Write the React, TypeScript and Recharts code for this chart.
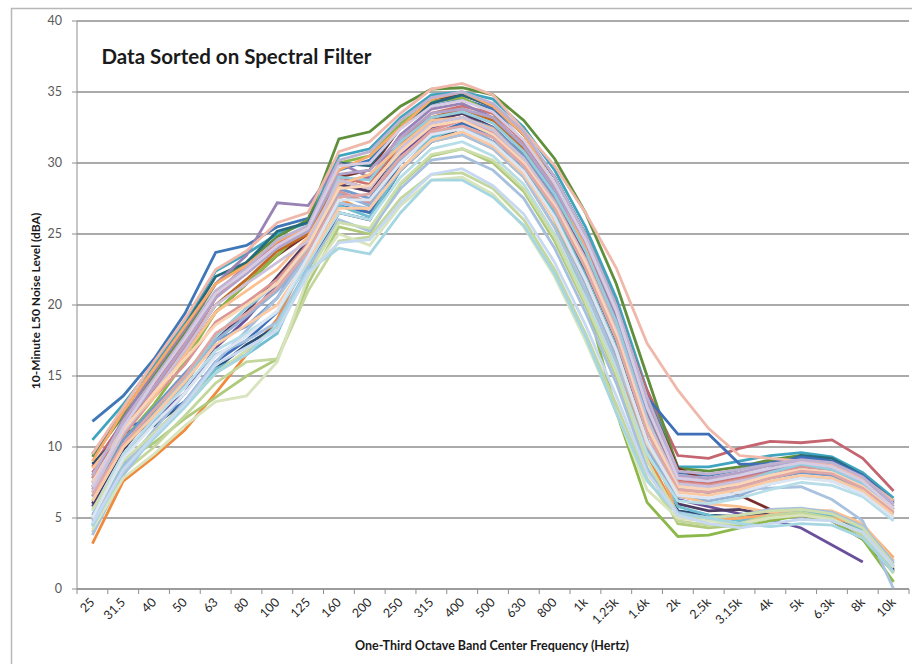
import { LineChart, Line, XAxis, YAxis, CartesianGrid } from 'recharts'

const FREQS = ['25', '31.5', '40', '50', '63', '80', '100', '125', '160', '200', '250', '315', '400', '500', '630', '800', '1k', '1.25k', '1.6k', '2k', '2.5k', '3.15k', '4k', '5k', '6.3k', '8k', '10k']
const Y_TICKS = [0, 5, 10, 15, 20, 25, 30, 35, 40]

// one row per measurement, values in dBA per frequency band
const s01 = [11.8, 13.6, 16.2, 19.4, 23.7, 24.2, 25.5, 26.1, 29.5, 30.2, 32.5, 34, 34.5, 33.8, 31.5, 28.5, 24.5, 19.5, 13, 8.2, 8, 8.4, 9, 9.2, 8.8, 7.8, 6.1]
const s02 = [10.5, 13, 15.8, 18.8, 22.4, 23.6, 25, 25.8, 30.5, 31, 33.2, 34.8, 35, 34.5, 32.5, 29.5, 25.5, 20.5, 14, 8.6, 8.6, 9, 9.4, 9.6, 9.3, 8.2, 6.4]
const s03 = [8.6, 11.8, 14.5, 17.5, 20.8, 22.8, 24.2, 25.2, 28.5, 29, 31.5, 33, 33.5, 32.5, 30.5, 27.5, 24, 19.5, 14, 9.4, 9.2, 9.9, 10.4, 10.3, 10.5, 9.2, 6.9]
const s04 = [9.3, 12.2, 15, 18, 21.5, 23, 24.8, 26, 31.7, 32.2, 34, 35.2, 35.3, 34.8, 33, 30.3, 26.5, 21.5, 15, 8.5, 8.3, 8.6, 9.1, 9.4, 9, 8, 6.2]
const s05 = [5.8, 10.2, 12, 13.8, 17, 19, 21.5, 24, 28, 27, 30.5, 32.5, 33, 32, 30, 26.5, 22, 16.5, 10, 6.3, 5.8, 5.3, 4.9, 4.3, 3.1, 1.9, null]
const s06 = [3.2, 7.6, 9.3, 11.2, 13.8, 16.5, 19, 23.5, 27.5, 26.5, 29.5, 31.5, 32, 31, 29, 25.5, 21, 16, 9.5, 5.2, 4.9, 5, 5.3, 5.5, 5.2, 4, 1.6]
const s07 = [8.8, 11, 11.5, 13.2, 15.5, 17.2, 18.5, 22.5, 26.5, 26, 29.5, 31.5, 32.5, 31.5, 29.5, 26.5, 22.5, 17.5, 10.5, 5.5, 5.2, 5.1, 5.3, 5.5, 5.1, 3.9, 1.3]
const s08 = [7.5, 11, 13.8, 16.5, 19.5, 21.5, 23.5, 25, 29, 29.5, 32.5, 34.5, 34.8, 34, 32, 29, 25, 20, 13.5, 8.5, 7.6, 6.6, 5.6, 5.2, 4.8, 3.5, 1.2]
const s09 = [6.8, 10.5, 13, 16, 19.5, 21.5, 23.5, 25.5, 30, 30.5, 32.8, 34.3, 34.6, 33.5, 30.5, 26, 20.5, 12.5, 6.1, 3.7, 3.8, 4.3, 4.8, 5.2, 4.8, 3.5, 0.5]
const s10 = [6, 9.8, 12.5, 14.5, 17.5, 19.5, 22, 24.5, 28.5, 28, 31, 33, 33.5, 32.5, 30.5, 27.5, 23.5, 18.5, 11.5, 6, 5.5, 5.6, 5.2, 5.3, 5, 3.8, 1.4]
const s11 = [9.5, 12.5, 15.5, 18.5, 22, 23, 25.2, 25.8, 30, 29.8, 32.5, 34.2, 34.8, 34, 32, 29, 25, 20, 13.5, 7.2, 6.8, 7.5, 8.5, 9.4, 9.2, 8, 6]
const s12 = [7.2, 11.5, 14, 16.8, 20, 21.8, 23.8, 25, 28.8, 28.2, 31.2, 33.2, 33.8, 33, 31, 28, 24, 19, 12.5, 7.5, 7.4, 7.8, 8.4, 8.8, 8.6, 7.5, 5.6]
const s13 = [8, 11.5, 11.8, 13.2, 16, 17.5, 19.5, 23, 27, 26.5, 30, 32, 32.8, 32, 30, 27, 23, 18.2, 13.5, 10.9, 10.9, 8.8, 8.8, 9.3, 9, 8, 6.2]
const s14 = [8.2, 11, 14, 17, 20.5, 22.5, 24.3, 25.5, 29, 28.5, 31.5, 33.5, 34, 33.5, 31.5, 28.5, 24.5, 19.5, 13, 7.6, 7.4, 7.8, 8.4, 8.8, 8.6, 7.6, 5.8]
const s15 = [5, 9, 10.3, 12, 13.5, 15, 16.2, 21.5, 25.5, 25, 28.5, 30.5, 31, 30, 28, 24.5, 20, 15, 8.5, 4.6, 4.3, 4.5, 5, 5.4, 5, 3.8, 1.2]
const s16 = [7.8, 12, 15.3, 18.3, 21.5, 23.5, 27.2, 27, 30, 29, 32, 33.8, 34.2, 33.2, 31.2, 28, 24, 19, 12.5, 7.8, 7.6, 8, 8.4, 8.7, 8.4, 7.3, 5.5]
const s17 = [4.5, 8.8, 11, 13, 15.5, 16.5, 18, 22.8, 27, 26.2, 29.5, 31.8, 32.5, 31.8, 29.8, 26.5, 22, 17, 10, 5.8, 5.2, 4.8, 5.2, 5.5, 5.2, 4.2, 1.8]
const s18 = [9, 12.5, 15.5, 18.5, 21.5, 22.8, 24.5, 25.5, 29.5, 30.5, 32.5, 34.5, 35, 34, 32, 28.5, 24, 18.5, 11.5, 5, 4.8, 5, 5.2, 5.3, 5, 4.5, 2.2]
const s19 = [6.5, 10.5, 12.8, 15.2, 17.5, 18.5, 20.5, 24, 28.2, 27.5, 30.8, 32.8, 33.2, 32.5, 30.5, 27.5, 23, 18, 11.2, 7, 6.8, 7.2, 7.8, 8.2, 8, 7, 5.3]
const s20 = [7.8, 10.8, 13.5, 15.8, 18.8, 20.2, 21.8, 24.3, 28, 27.2, 30.3, 32.3, 33, 32.2, 30.3, 27.3, 23.3, 18.3, 11.8, 7.5, 7.3, 7.7, 8.2, 8.6, 8.4, 7.4, 5.6]
const s21 = [5.2, 9.2, 11.8, 14.5, 17.5, 19.2, 21, 23.5, 27.8, 27, 30.2, 32, 32.5, 31.5, 29.5, 26, 21.5, 16.5, 10, 6.5, 6.2, 6.6, 7.4, 7.9, 7.6, 6.7, 5]
const s22 = [4, 8.2, 10, 12.2, 14.5, 16, 16.2, 21, 24.5, 24.8, 27.5, 29.2, 29.3, 28.2, 26, 22.5, 18, 13, 7.8, 4.8, 4.5, 4.6, 5.2, 5.4, 5, 3.8, 1.1]
const s23 = [7, 11.5, 14.2, 17.2, 20.5, 22.2, 24, 25.2, 29.2, 29.5, 31.8, 33.5, 33.8, 33.2, 31.2, 28.2, 24.5, 19.5, 13, 8, 7.8, 8.2, 8.7, 9, 8.7, 7.6, 5.8]
const s24 = [6.2, 10, 12.3, 14.8, 17.8, 19.8, 21.5, 24, 29, 28.8, 31.5, 33.2, 33.6, 32.8, 30.8, 27.8, 23.8, 18.8, 12, 7.2, 7, 7.5, 8.2, 8.8, 8.4, 7.4, 5.6]
const s25 = [8.5, 11.2, 13.5, 16.5, 19.5, 21, 22.5, 24.8, 28.5, 29.2, 31.2, 33, 33.2, 32.4, 30.2, 27, 23, 18, 11.5, 6.6, 6, 5.8, 5.4, 5.6, 5.5, 4.6, 2]
const s26 = [3.8, 8, 10.8, 13.2, 16, 18.2, 20.5, 23.5, 27.2, 26.8, 29.5, 31.5, 32, 31, 29, 25.5, 21, 16, 10.5, 7, 6.9, 7, 7.1, 7.2, 6.3, 4.8, 0]
const s27 = [9.5, 12.8, 16, 19, 22.5, 23.8, 25.8, 26.5, 30.8, 31.5, 33.5, 35.2, 35.6, 34.8, 32.3, 29.8, 26.5, 22.6, 17.3, 14, 11.3, 9.4, 9.2, 9, 8.7, 7.8, 6.2]
const s28 = [4.2, 7.8, 9.5, 11.5, 13.2, 13.6, 16, 22, 25, 24.2, 27, 28.8, 29, 27.8, 25.5, 22, 17.5, 12.5, 7, 5, 4.8, 4.6, 5, 5.2, 4.9, 4, 1.5]
const s29 = [6.8, 11, 13.8, 16.8, 20, 21.5, 23, 24.5, 28.8, 28.2, 31, 32.8, 33.2, 32.3, 30.3, 27.2, 23.2, 18.2, 11.8, 7.4, 7.2, 7.6, 8, 8.4, 8.2, 7.2, 5.4]
const s30 = [5.5, 9.5, 12, 14.2, 16.8, 18, 19.5, 23, 26.5, 26, 29, 31, 31.5, 30.5, 28.5, 25, 20.5, 15.5, 9.5, 6.2, 6, 6.4, 7, 7.5, 7.3, 6.5, 4.8]
const s31 = [7.5, 11.2, 13.8, 16.2, 18.6, 20, 21.5, 24.2, 28.2, 28.4, 30.8, 32.6, 33, 32, 30, 27, 23, 18, 11.5, 7.2, 7, 7.4, 8, 8.4, 8.2, 7.2, 5.5]
const s32 = [4.8, 8.6, 11.2, 13.8, 16.5, 17.5, 18.8, 22.6, 26, 25.2, 28.2, 30.2, 30.5, 29.5, 27.5, 24, 19.5, 14.5, 8.5, 5.4, 5, 5.2, 5.6, 5.7, 5.4, 4.4, 1.9]
const s33 = [6.6, 10.2, 12.6, 15, 18, 19.4, 21.2, 23.8, 27.6, 27.8, 30.4, 32.2, 32.6, 31.8, 29.8, 26.8, 22.6, 17.6, 11, 7, 6.8, 7.2, 7.8, 8.3, 8.1, 7.1, 5.4]
const s34 = [5.6, 9, 11, 13, 15.2, 16.8, 18.5, 22.2, 25.8, 25.4, 28.6, 30.6, 31, 30.2, 28.2, 24.8, 20.2, 15.2, 9, 5.2, 5, 5.2, 5.5, 5.6, 5.3, 4.3, 1.7]
const s35 = [8, 11.8, 14.8, 17.8, 21, 22.6, 24.6, 25.6, 30.2, 30.8, 33, 34.6, 35, 34.2, 32.2, 29, 25, 20, 13.5, 8.3, 8.1, 8.4, 8.8, 9.1, 8.9, 7.9, 6]
const s36 = [4.4, 8.4, 10.6, 12.8, 15.2, 16.5, 18.6, 22.4, 24, 23.6, 26.5, 28.8, 28.8, 27.6, 25.6, 22.2, 17.8, 12.4, 7.6, 5.3, 5, 4.6, 4.4, 4.6, 4.5, 3.6, 1.2]
const s37 = [6.2, 10, 12.2, 14.6, 17.2, 18.6, 20, 23.2, 26.8, 26.8, 29.6, 31.6, 32.2, 31.2, 29.2, 26, 21.8, 16.8, 10.2, 6.8, 6.6, 7, 7.6, 8, 7.8, 6.9, 5.2]
const s38 = [4.6, 8.4, 10.8, 13, 15.8, 17, 18.2, 22.2, 24.4, 24.6, 27.2, 29.2, 29.6, 28.4, 26.4, 23, 18.6, 13.6, 8.2, 5.2, 4.6, 4.3, 4.6, 4.9, 4.8, 4, 1.6]
const s39 = [7.2, 11.4, 14.6, 17.6, 20.8, 22.4, 24.2, 25.4, 29.8, 30, 32.4, 34, 34.4, 33.6, 31.6, 28.6, 24.6, 19.6, 12.8, 7.8, 7.6, 8, 8.5, 8.9, 8.6, 7.6, 5.7]
const s40 = [5, 9.2, 11.6, 13.8, 16.4, 17.8, 19.6, 23.4, 27.4, 27.4, 30, 32, 32.4, 31.4, 29.4, 26.2, 21.8, 16.8, 10.4, 6.6, 6.4, 6.8, 7.4, 7.8, 7.6, 6.7, 5]

const SERIES = [s01, s02, s03, s04, s05, s06, s07, s08, s09, s10, s11, s12, s13, s14, s15, s16, s17, s18, s19, s20,
  s21, s22, s23, s24, s25, s26, s27, s28, s29, s30, s31, s32, s33, s34, s35, s36, s37, s38, s39, s40]

const COLORS = [
  '#3f77b8', '#3fa5bf', '#c46570', '#5f8f3a', '#6a509a', '#f08a3c', '#2c4d75', '#7a2e2a', '#8cb84a', '#4d3b62',
  '#276a7c', '#c06a22', '#3f6fb8', '#cd7371', '#afc97a', '#9983b5', '#6fbdd1', '#f9ab6b', '#729aca', '#d99694',
  '#95b3d7', '#c3d69b', '#b3a2c7', '#93cddd', '#fac090', '#a9c2e0', '#efb8aa', '#d7e4bd', '#ccc1da', '#b7dee8',
  '#fcd5b5', '#a7c0de', '#dfa7a6', '#cddeac', '#bfb2d1', '#a5d6e2', '#fbcaa2', '#c6d9f1', '#d6cde4', '#dce6f2',
]

const W = 912
const H = 664
const PLOT_LEFT = 77
const PLOT_RIGHT = 3
const HALF_BAND = (W - PLOT_LEFT - PLOT_RIGHT) / FREQS.length / 2
const FONT = 'Lato, "Open Sans", sans-serif'

const data = FREQS.map((f, i) => {
  const row: Record<string, number | string | null> = { x: i + 0.5, f }
  SERIES.forEach((s, k) => { row[`s${k}`] = s[i] })
  return row
})

const xTicks = FREQS.map((_, i) => i).concat(FREQS.length)

function FreqTick({ x, y, payload }: { x: number; y: number; payload: { value: number } }) {
  const label = FREQS[payload.value]
  if (!label) return null
  const ax = x + HALF_BAND + 3
  const ay = y + 7
  return (
    <text x={ax} y={ay} transform={`rotate(-45 ${ax} ${ay})`} textAnchor="end"
      fontSize={12.5} fontFamily={FONT} fill="#1f1f1f">
      {label}
    </text>
  )
}

export default function App() {
  return (
    <div style={{ position: 'fixed', left: 0, top: 0, width: W, height: H, background: '#fff' }}>
      <svg width={W} height={H} style={{ position: 'absolute', left: 0, top: 0 }}>
        <rect x={11.5} y={8.5} width={1000} height={1000} fill="none" stroke="#b8b8b8" strokeWidth={1.5} />
        <text x={101.5} y={64} fontSize={20.5} fontWeight={700} fontFamily={FONT} fill="#1a1a1a">
          Data Sorted on Spectral Filter
        </text>
        <text x={40} y={301} transform="rotate(-90 40 301)" textAnchor="middle"
          fontSize={12} fontWeight={700} fontFamily={FONT} fill="#1a1a1a">
          10-Minute L50 Noise Level (dBA)
        </text>
        <text x={492} y={650} textAnchor="middle" fontSize={12.5} fontWeight={700} fontFamily={FONT} fill="#1a1a1a">
          One-Third Octave Band Center Frequency (Hertz)
        </text>
      </svg>
      <div style={{ position: 'absolute', left: 0, top: 0 }}>
        <LineChart width={W} height={H} data={data} margin={{ top: 21, right: PLOT_RIGHT, bottom: 0, left: 0 }}>
          <CartesianGrid vertical={false} stroke="#8e8e8e" strokeWidth={1.3} />
          <XAxis
            type="number"
            dataKey="x"
            domain={[0, FREQS.length]}
            ticks={xTicks}
            interval={0}
            height={75}
            tickSize={5}
            tickMargin={2}
            stroke="#8e8e8e"
            tick={FreqTick}
          />
          <YAxis
            domain={[0, 40]}
            ticks={Y_TICKS}
            width={PLOT_LEFT}
            tickSize={5}
            tickMargin={10}
            stroke="#8e8e8e"
            tick={{ fontSize: 12.5, fill: '#595959', fontFamily: FONT }}
          />
          {SERIES.map((_, k) => (
            <Line
              key={k}
              type="linear"
              dataKey={`s${k}`}
              stroke={COLORS[k]}
              strokeWidth={2.8}
              dot={false}
              isAnimationActive={false}
            />
          ))}
        </LineChart>
      </div>
    </div>
  )
}
